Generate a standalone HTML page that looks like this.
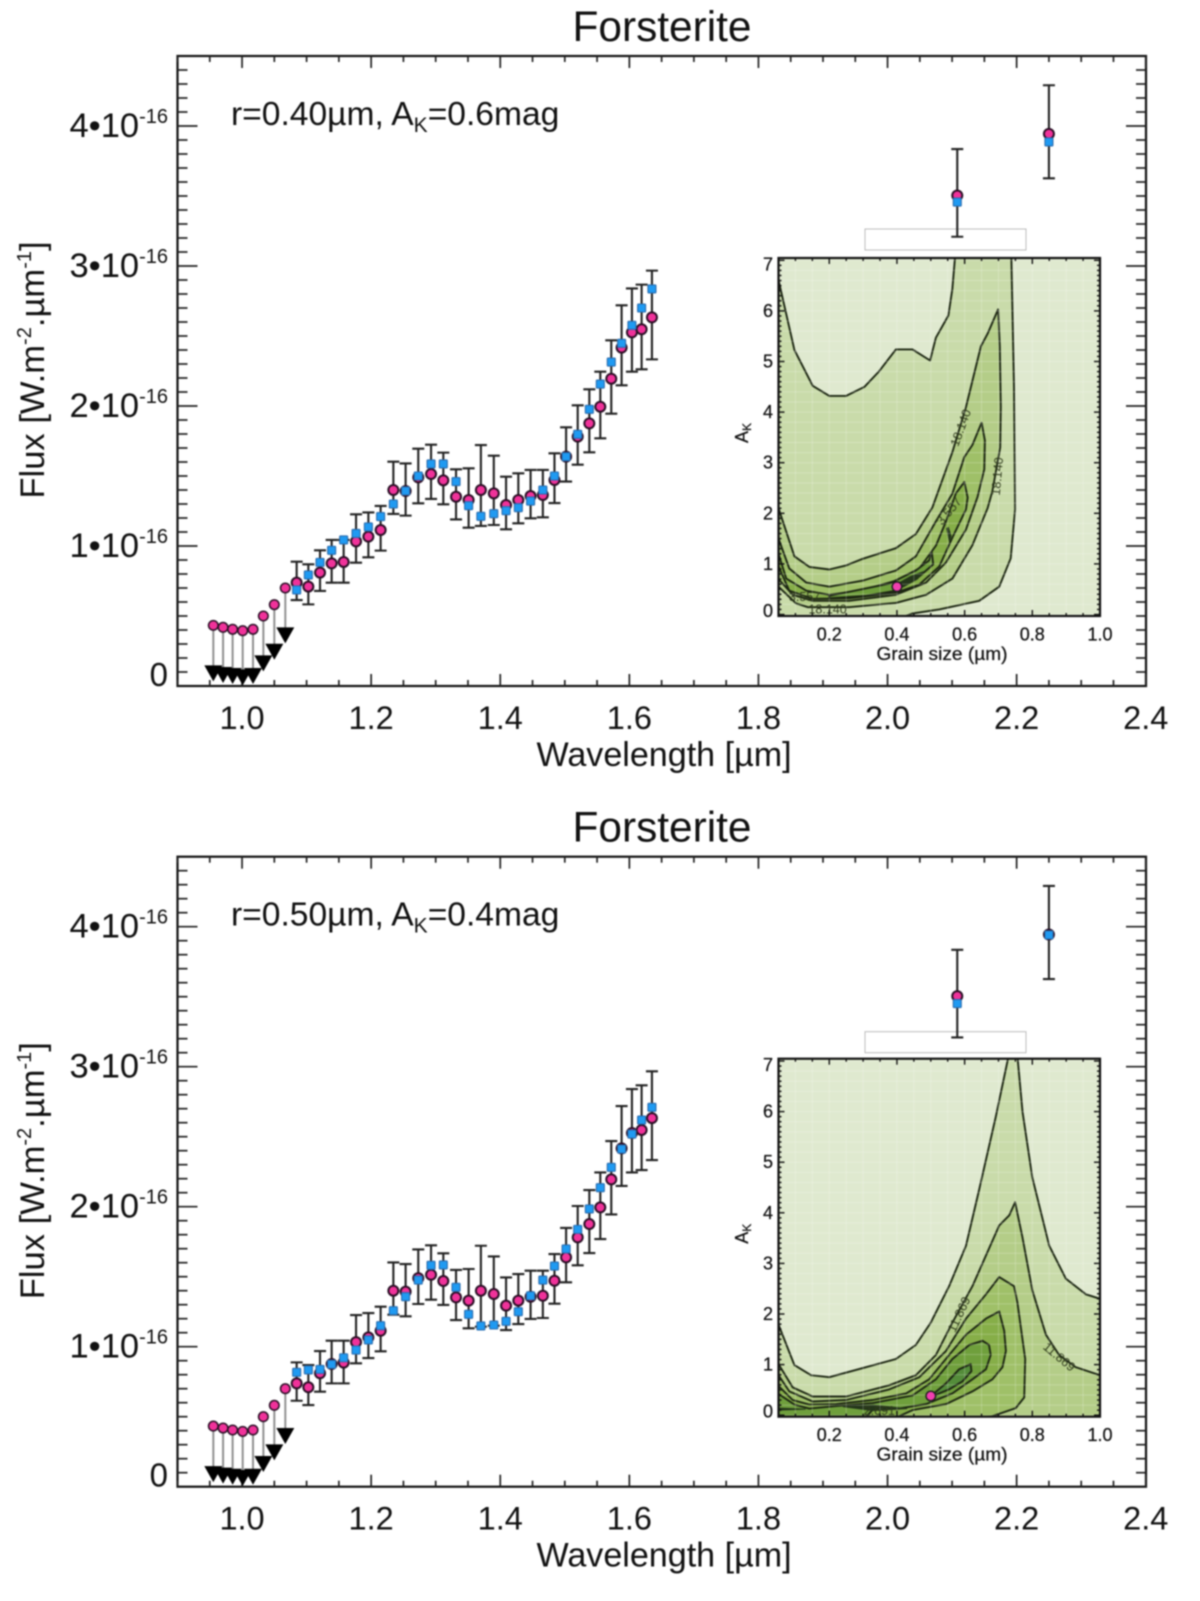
<!DOCTYPE html>
<html lang="en">
<head>
<meta charset="utf-8">
<title>Forsterite spectra</title>
<style>
html,body{margin:0;padding:0;background:#fff;}
#chart{display:block;width:1200px;height:1601px;filter:blur(0.75px);font-family:"Liberation Sans",sans-serif;fill:#111;}
</style>
</head>
<body>
<svg id="chart" xmlns="http://www.w3.org/2000/svg" width="1200" height="1601" viewBox="0 0 1200 1601">
  <defs>
    <clipPath id="inset-clip"><rect x="778.5" y="258" width="321.5" height="358"/></clipPath>
  </defs>
  <g id="panel-1">
    <text x="662" y="41" font-size="42.4" text-anchor="middle">Forsterite</text>
    <text x="231" y="125" font-size="33.6">r=0.40µm, A<tspan font-size="21" dy="7">K</tspan><tspan dy="-7">=0.6mag</tspan></text>
    <text transform="translate(44,370) rotate(-90)" font-size="34.6" text-anchor="middle">Flux [W.m<tspan font-size="20" dy="-13">-2</tspan><tspan dy="13">.µm</tspan><tspan font-size="20" dy="-13">-1</tspan><tspan dy="13">]</tspan></text>
    <text x="664" y="766" font-size="34.1" text-anchor="middle">Wavelength [µm]</text>
    <rect x="865" y="229" width="161" height="21" fill="#fff" stroke="#bbb" stroke-width="1"/>
    <text x="942" y="660" font-size="18" text-anchor="middle" textLength="131" lengthAdjust="spacingAndGlyphs" stroke="#111" stroke-width="0.25">Grain size (µm)</text>
    <text transform="translate(748,433) rotate(-90)" font-size="18" text-anchor="middle" stroke="#111" stroke-width="0.25">A<tspan font-size="12" dy="3">K</tspan></text>
  </g>
  <g id="panel-2" transform="translate(0,800.7)">
    <text x="662" y="41" font-size="42.4" text-anchor="middle">Forsterite</text>
    <text x="231" y="125" font-size="33.6">r=0.50µm, A<tspan font-size="21" dy="7">K</tspan><tspan dy="-7">=0.4mag</tspan></text>
    <text transform="translate(44,370) rotate(-90)" font-size="34.6" text-anchor="middle">Flux [W.m<tspan font-size="20" dy="-13">-2</tspan><tspan dy="13">.µm</tspan><tspan font-size="20" dy="-13">-1</tspan><tspan dy="13">]</tspan></text>
    <text x="664" y="766" font-size="34.1" text-anchor="middle">Wavelength [µm]</text>
    <rect x="865" y="231" width="161" height="21" fill="#fff" stroke="#bbb" stroke-width="1"/>
    <text x="942" y="660" font-size="18" text-anchor="middle" textLength="131" lengthAdjust="spacingAndGlyphs" stroke="#111" stroke-width="0.25">Grain size (µm)</text>
    <text transform="translate(748,433) rotate(-90)" font-size="18" text-anchor="middle" stroke="#111" stroke-width="0.25">A<tspan font-size="12" dy="3">K</tspan></text>
  </g>
</svg>
<script>
// ---- main spectrum data (flux in units of 1e-16) ----
const limitWave = [0.9555,0.9706,0.9854,1.001,1.017,1.033,1.050,1.067];
const limitFlux = [0.433,0.419,0.405,0.395,0.405,0.500,0.581,0.700];
const limitTriangle = [0.090,0.079,0.071,0.062,0.071,0.162,0.245,0.362];
const wave = [1.0846,1.1027,1.1208,1.1388,1.1574,1.1766,1.1957,1.2147,1.2344,1.2534,1.273,1.2928,1.3118,1.3315,1.351,1.370,1.390,1.409,1.428,1.447,1.466,1.484,1.502,1.520,1.538,1.555,1.572,1.588,1.604,1.619,1.635,2.108,2.25];
const targetFlux = [0.738,0.710,0.810,0.876,0.886,1.033,1.067,1.114,1.400,1.393,1.490,1.514,1.469,1.352,1.329,1.400,1.376,1.293,1.329,1.357,1.364,1.471,1.638,1.781,1.876,1.995,2.195,2.417,2.526,2.548,2.633,3.504,3.944];
const errHigh = [0.888,0.869,0.969,1.043,1.043,1.226,1.240,1.286,1.602,1.590,1.695,1.724,1.667,1.548,1.555,1.721,1.645,1.495,1.519,1.543,1.543,1.662,1.848,2.005,2.119,2.245,2.469,2.719,2.840,2.867,2.967,3.835,4.291];
const errLow = [0.614,0.583,0.679,0.738,0.738,0.881,0.919,0.967,1.229,1.217,1.305,1.336,1.298,1.190,1.131,1.143,1.150,1.119,1.162,1.198,1.205,1.307,1.460,1.581,1.669,1.769,1.945,2.148,2.245,2.262,2.333,3.209,3.626];
const modelTop = [0.686,0.793,0.883,0.969,1.043,1.090,1.136,1.210,1.300,1.393,1.500,1.586,1.586,1.460,1.288,1.212,1.231,1.252,1.274,1.321,1.400,1.500,1.638,1.798,1.976,2.157,2.314,2.448,2.576,2.700,2.836,3.457,3.886];
const modelBottom = [0.817,0.834,0.838,0.874,0.921,0.976,1.048,1.150,1.257,1.357,1.476,1.581,1.584,1.424,1.231,1.148,1.155,1.181,1.250,1.364,1.476,1.576,1.698,1.838,1.984,2.136,2.281,2.412,2.519,2.619,2.710,3.451,3.941];
const xTickLabels = ["1.0","1.2","1.4","1.6","1.8","2.0","2.2","2.4"];
const yTickLabels = [1,2,3,4];

// ---- inset contour data: [grain size, A_K] ----
const insetXLabels = ["0.2","0.4","0.6","0.8","1.0"];
const insetYLabels = ["0","1","2","3","4","5","6","7"];
const contourFills = ["#c9dbaa","#b4cd88","#9fc068","#86ae48","#6f9f3c","#548c3a"];
const topContour1 = [[.05,6.61],[.097,5.23],[.151,4.52],[.2,4.32],[.25,4.32],[.304,4.5],[.348,4.81],[.397,5.24],[.446,5.24],[.498,5.02],[.515,5.47],[.552,5.91],[.564,6.44],[.572,7.1],[.738,7.1],[.746,4.5],[.749,2.08],[.736,1.11],[.702,.55],[.643,.27],[.525,.10],[.446,.02],[.397,-.1],[.04,-.1],[.04,6.61]];
const topContour2 = [[.04,2.1],[.05,2.1],[.097,1.15],[.141,.94],[.2,.89],[.25,.97],[.299,1.10],[.397,1.31],[.456,1.59],[.505,2.12],[.564,3.21],[.604,4.10],[.648,5.3],[.668,5.55],[.699,6.03],[.704,5.3],[.707,4.1],[.705,3.3],[.682,2.44],[.668,2.1],[.623,1.37],[.564,.71],[.486,.39],[.397,.23],[.259,.145],[.137,.145],[.102,.22],[.05,.55],[.04,.55]];
const topContour3 = [[.04,1.5],[.05,1.5],[.082,.91],[.132,.63],[.2,.55],[.299,.67],[.397,.87],[.456,1.15],[.515,1.84],[.564,2.39],[.599,3.11],[.623,3.35],[.65,3.79],[.66,3.44],[.658,2.87],[.638,2.32],[.604,1.68],[.545,1.03],[.486,.63],[.397,.39],[.259,.27],[.151,.27],[.092,.39],[.05,.7],[.04,.7]];
const topContour4 = [[.04,1.2],[.05,1.2],[.073,.71],[.132,.47],[.2,.39],[.299,.48],[.397,.67],[.466,.91],[.515,1.36],[.545,1.84],[.574,2.39],[.599,2.62],[.609,2.31],[.604,2.08],[.564,1.52],[.525,.95],[.466,.59],[.397,.43],[.259,.32],[.151,.31],[.082,.47],[.05,.95],[.04,.95]];
const topContour5 = [[.2,.37],[.304,.51],[.377,.61],[.456,.87],[.495,1.07],[.503,1.23],[.507,.99],[.466,.75],[.397,.47],[.309,.37],[.2,.32]];
const topDark1 = [[.40,.6],[.44,.75],[.48,.85],[.46,.7],[.42,.55]];
const topDark2 = [[.547,1.7],[.555,1.45],[.56,1.55],[.552,1.72]];
const bottomContour1 = [[.04,1.79],[.05,1.79],[.097,.99],[.146,.79],[.2,.75],[.299,.93],[.397,1.11],[.456,1.39],[.5,1.83],[.554,2.55],[.604,3.35],[.643,4.46],[.692,5.9],[.73,7.1],[.756,7.1],[.771,6.0],[.80,4.7],[.85,3.35],[.899,2.7],[.958,2.39],[1.0,2.3],[1.01,2.3],[1.01,-.1],[.04,-.1]];
const bottomContour2 = [[.04,1.01],[.05,1.01],[.092,.55],[.151,.37],[.25,.37],[.377,.59],[.456,.79],[.515,1.19],[.564,1.83],[.623,2.55],[.702,3.75],[.732,3.95],[.749,4.21],[.771,3.51],[.80,2.47],[.84,1.59],[.879,1.19],[.928,.95],[1.0,.79],[1.01,.79],[1.01,-.1],[.04,-.1]];
const bottomContour3 = [[.04,.79],[.05,.79],[.082,.47],[.151,.27],[.25,.3],[.377,.51],[.466,.75],[.545,1.27],[.604,1.91],[.663,2.39],[.702,2.73],[.746,2.55],[.756,2.23],[.779,1.11],[.776,.35],[.751,.14],[.682,-.02],[.6,-.1],[.04,-.1]];
const bottomContour4 = [[.04,.58],[.05,.58],[.092,.3],[.141,.21],[.22,.22],[.328,.3],[.427,.43],[.495,.71],[.554,1.19],[.604,1.59],[.663,1.91],[.702,2.05],[.717,1.67],[.722,1.27],[.712,.95],[.682,.71],[.623,.47],[.545,.22],[.446,.1],[.38,-.1],[.04,-.1]];
const bottomContour5 = [[.04,.42],[.05,.42],[.097,.21],[.141,.13],[.22,.18],[.328,.24],[.446,.39],[.515,.71],[.564,1.11],[.614,1.39],[.653,1.47],[.672,1.39],[.677,1.19],[.663,.91],[.623,.71],[.564,.43],[.486,.22],[.407,.13],[.33,.12],[.3,-.1],[.04,-.1]];
const bottomContour6 = [[.545,.63],[.584,.91],[.618,1.01],[.62,.87],[.594,.67],[.554,.51],[.495,.35]];
const bottomDark1 = [[.05,.1],[.13,.12],[.05,.14]];
const bottomDark2 = [[.24,.17],[.33,.2],[.43,.13],[.33,.09]];
const topBest = [0.4,0.55];
const bottomBest = [0.5,0.38];
const topLabels = [["18.140",.589,3.69,-70],["18.140",.697,2.73,-85],["18.140",.195,.10,0],["3.557",.127,.35,0],["3.557",.554,2.04,-50]];
const bottomLabels = [["11.869",.584,1.99,-65],["11.869",.879,1.15,40],["2.691",.348,.08,0]];

const NS = "http://www.w3.org/2000/svg";
const xScale = w => 177.5 + (w - 0.9) * 645.5;
const yScale = f => 686 - f * 140;
const insetX = g => 778.5 + (g - 0.05) * (321.5 / 0.95);
const insetY = a => 614.5 - a * 50.6;

function el(parent, tag, props, text) {
  const node = document.createElementNS(NS, tag);
  for (const k in props) node.setAttribute(k, props[k]);
  if (text !== undefined) node.textContent = text;
  parent.appendChild(node);
  return node;
}
function pointsOf(list) {
  return list.map(p => insetX(p[0]).toFixed(1) + "," + insetY(p[1]).toFixed(1)).join(" ");
}

function drawAxes(g) {
  const frame = el(g, "rect", {x:177.5, y:56, width:968.5, height:630, fill:"none", stroke:"#111", "stroke-width":2.2});
  
  
  const ticks = el(g, "g", {stroke:"#222", "stroke-width":1.7, fill:"none"});
  
  
  for (let i = 0; i <= 30; i++) {
    const x = xScale(0.9 + i * 0.05), major = (i + 2) % 4 === 0, len = major ? 12 : 6;
    el(ticks, "line", {x1:x, x2:x, y1:686, y2:686 - len});
    el(ticks, "line", {x1:x, x2:x, y1:56, y2:56 + len});
  }
  for (let i = 1; i <= 44; i++) {
    const y = yScale(i * 0.1), major = i % 10 === 0, len = major ? 20 : 10;
    el(ticks, "line", {x1:177.5, x2:177.5 + len, y1:y, y2:y});
    el(ticks, "line", {x1:1146, x2:1146 - len, y1:y, y2:y});
  }
  xTickLabels.forEach(label => {
    const t = el(g, "text", {x:xScale(parseFloat(label)), y:729, "font-size":32.5, "text-anchor":"middle"}, label);
    
    
  });
  yTickLabels.forEach(v => {
    const t = el(g, "text", {x:168, y:yScale(v) + 11, "font-size":34.5, "text-anchor":"end"}, v + "•10");
    el(t, "tspan", {"font-size":20, dy:-14}, "-16");
    
    
  });
  const zero = el(g, "text", {x:168, y:686, "font-size":33, "text-anchor":"end"}, "0");
  
  
}

function drawSpectrum(g, model) {
  const drops = el(g, "g", {stroke:"#8f8f8f", "stroke-width":2});
  
  
  limitWave.forEach((w, i) => {
    el(drops, "line", {x1:xScale(w), x2:xScale(w), y1:yScale(limitFlux[i]), y2:yScale(limitTriangle[i])});
  });
  limitWave.forEach((w, i) => {
    const x = xScale(w), y = yScale(limitTriangle[i]);
    const tri = el(g, "polygon", {points:(x-9)+","+(y-8)+" "+(x+9)+","+(y-8)+" "+x+","+(y+8), fill:"#000"});
    
    
  });
  limitWave.forEach((w, i) => {
    const c = el(g, "circle", {cx:xScale(w), cy:yScale(limitFlux[i]), r:4.8, fill:"#f0329a", stroke:"#2a0f25", "stroke-width":1.5});
    
    
  });
  wave.forEach((w, i) => {
    const x = xScale(w), hi = yScale(errHigh[i]), lo = yScale(errLow[i]);
    const bar = el(g, "path", {d:"M"+x+" "+hi+"V"+lo+"M"+(x-6)+" "+hi+"H"+(x+6)+"M"+(x-6)+" "+lo+"H"+(x+6), stroke:"#222", "stroke-width":2.1, fill:"none"});
    
    
  });
  wave.forEach((w, i) => {
    const c = el(g, "circle", {cx:xScale(w), cy:yScale(targetFlux[i]), r:5, fill:"#f0329a", stroke:"#2a0f25", "stroke-width":2});
    
    
  });
  wave.forEach((w, i) => {
    const s = el(g, "rect", {x:xScale(w) - 4, y:yScale(model[i]) - 4, width:8, height:8, rx:0.8, fill:"#1f9af2", stroke:"#2a6cae", "stroke-width":1.1});
    
    
  });
}

function drawInset(g, contours, darks, labels, best) {
  const bg = el(g, "rect", {x:778.5, y:258, width:321.5, height:358, fill:"#dfe9cf"});
  
  
  const clip = el(g, "g", {"clip-path":"url(#inset-clip)"});
  contours.forEach((c, i) => {
    const p = el(clip, "polygon", {points:pointsOf(c), fill:contourFills[i], stroke:"#1c2612", "stroke-width":1.9, "stroke-linejoin":"round"});
    
    
  });
  darks.forEach(d => {
    const p = el(clip, "polygon", {points:pointsOf(d), fill:"#24361a", stroke:"#24361a", "stroke-width":1});
    
    
  });
  const grid = el(clip, "g", {stroke:"#fff", "stroke-opacity":0.22, "stroke-width":1});
  
  
  for (let i = 0; i <= 19; i++) {
    const x = insetX(0.05 + i * 0.05);
    el(grid, "line", {x1:x, x2:x, y1:258, y2:616});
  }
  for (let i = 0; i <= 35; i++) {
    const y = insetY(i * 0.2);
    el(grid, "line", {x1:778.5, x2:1100, y1:y, y2:y, "stroke-opacity":0.22});
  }
  labels.forEach(l => {
    const x = insetX(l[1]), y = insetY(l[2]);
    const t = el(clip, "text", {x:x, y:y + 4, "font-size":12.5, "text-anchor":"middle", fill:"#2f3a1c", transform:"rotate("+l[3]+" "+x+" "+y+")"}, l[0]);
    
    
  });
  const frame = el(g, "rect", {x:778.5, y:258, width:321.5, height:358, fill:"none", stroke:"#111", "stroke-width":2.2});
  
  
  const ticks = el(g, "g", {stroke:"#111", "stroke-width":1.4});
  
  
  for (let i = 1; i <= 18; i++) {
    const gs = 0.05 + i * 0.05, x = insetX(gs), len = (i % 4 === 3) ? 6 : 3;
    el(ticks, "line", {x1:x, x2:x, y1:616, y2:616 - len});
    el(ticks, "line", {x1:x, x2:x, y1:258, y2:258 + len});
  }
  for (let i = 0; i <= 70; i++) {
    const y = insetY(i * 0.1), len = (i % 10 === 0) ? 6 : 3;
    el(ticks, "line", {x1:778.5, x2:778.5 + len, y1:y, y2:y});
    el(ticks, "line", {x1:1100, x2:1100 - len, y1:y, y2:y});
  }
  insetXLabels.forEach(label => {
    const t = el(g, "text", {x:insetX(parseFloat(label)), y:640.5, "font-size":18, "text-anchor":"middle", stroke:"#111", "stroke-width":0.25}, label);
    
    
  });
  insetYLabels.forEach(label => {
    const v = parseFloat(label);
    const yy = v === 0 ? 617 : insetY(v) + 6 + (v === 7 ? 4 : 0);
    const t = el(g, "text", {x:773, y:yy, "font-size":18, "text-anchor":"end", stroke:"#111", "stroke-width":0.25}, label);
    
    
  });
  const m = el(g, "circle", {cx:insetX(best[0]), cy:insetY(best[1]), r:4.8, fill:"#f23fb0", stroke:"#1c1c1c", "stroke-width":1.4});
  
  
}

const panel1 = document.getElementById("panel-1");
const panel2 = document.getElementById("panel-2");
drawAxes(panel1);
drawSpectrum(panel1, modelTop);
drawInset(panel1, [topContour1, topContour2, topContour3, topContour4, topContour5], [topDark1, topDark2], topLabels, topBest);
drawAxes(panel2);
drawSpectrum(panel2, modelBottom);
drawInset(panel2, [bottomContour1, bottomContour2, bottomContour3, bottomContour4, bottomContour5, bottomContour6], [bottomDark1, bottomDark2], bottomLabels, bottomBest);
</script>
</body>
</html>
